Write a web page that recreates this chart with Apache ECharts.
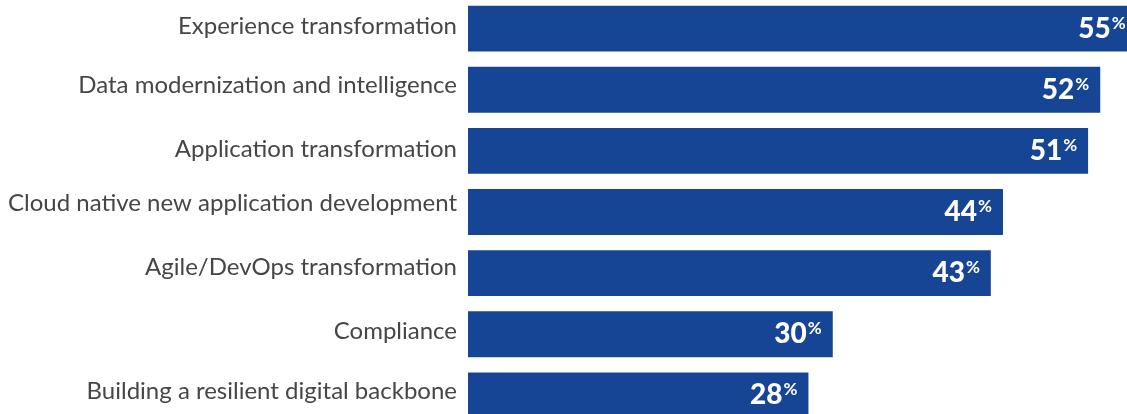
<!DOCTYPE html>
<html>
<head>
<meta charset="utf-8">
<script src="https://cdn.jsdelivr.net/npm/echarts@6/dist/echarts.min.js"></script>
<style>
  html, body { margin: 0; padding: 0; background: #fff; overflow: hidden; }
  #chart { width: 1127px; height: 428px; margin-top: -2px; }
</style>
</head>
<body>
<div id="chart"></div>
<script>
var categories = [
  'Experience transformation',
  'Data modernization and intelligence',
  'Application transformation',
  'Cloud native new application development',
  'Agile/DevOps transformation',
  'Compliance',
  'Building a resilient digital backbone'
];
var shares = [55, 52, 51, 44, 43, 30, 28];

var chart = echarts.init(document.getElementById('chart'));

// labels sit a bit above the bar middle in the original, by varying amounts
var labelLift = [2, 4, 2, 9, 6, 3, 4];
var labelRich = {};
labelLift.forEach(function (d, i) {
  labelRich['c' + i] = {
    fontFamily: 'Lato', fontSize: 24, color: '#464646',
    padding: [0, 0, d * 2, 0]
  };
});

var option = {
  animation: false,
  grid: { left: 468, right: 0, top: 0, bottom: 0, containLabel: false },
  xAxis: {
    type: 'value', min: 0, max: 54.2,
    show: false
  },
  yAxis: {
    type: 'category',
    data: categories,
    inverse: true,
    axisLine: { show: false },
    axisTick: { show: false },
    axisLabel: {
      margin: 11,
      formatter: function (v, i) { return '{c' + i + '|' + v + '}'; },
      rich: labelRich
    }
  },
  series: [{
    type: 'bar',
    data: shares,
    clip: false,
    barCategoryGap: '25%',
    itemStyle: { color: '#174596' },
    label: {
      show: true,
      position: 'insideRight',
      distance: 11,
      formatter: function (p) { return '{v|' + p.value + '}{p|%}'; },
      rich: {
        v: { fontFamily: 'Lato', fontWeight: 900, fontSize: 28, color: '#fff' },
        p: { fontFamily: 'Lato', fontWeight: 'bold', fontSize: 17, color: '#fff', padding: [0, 0, 11, 1] }
      }
    }
  }]
};

chart.setOption(option);
</script>
</body>
</html>
